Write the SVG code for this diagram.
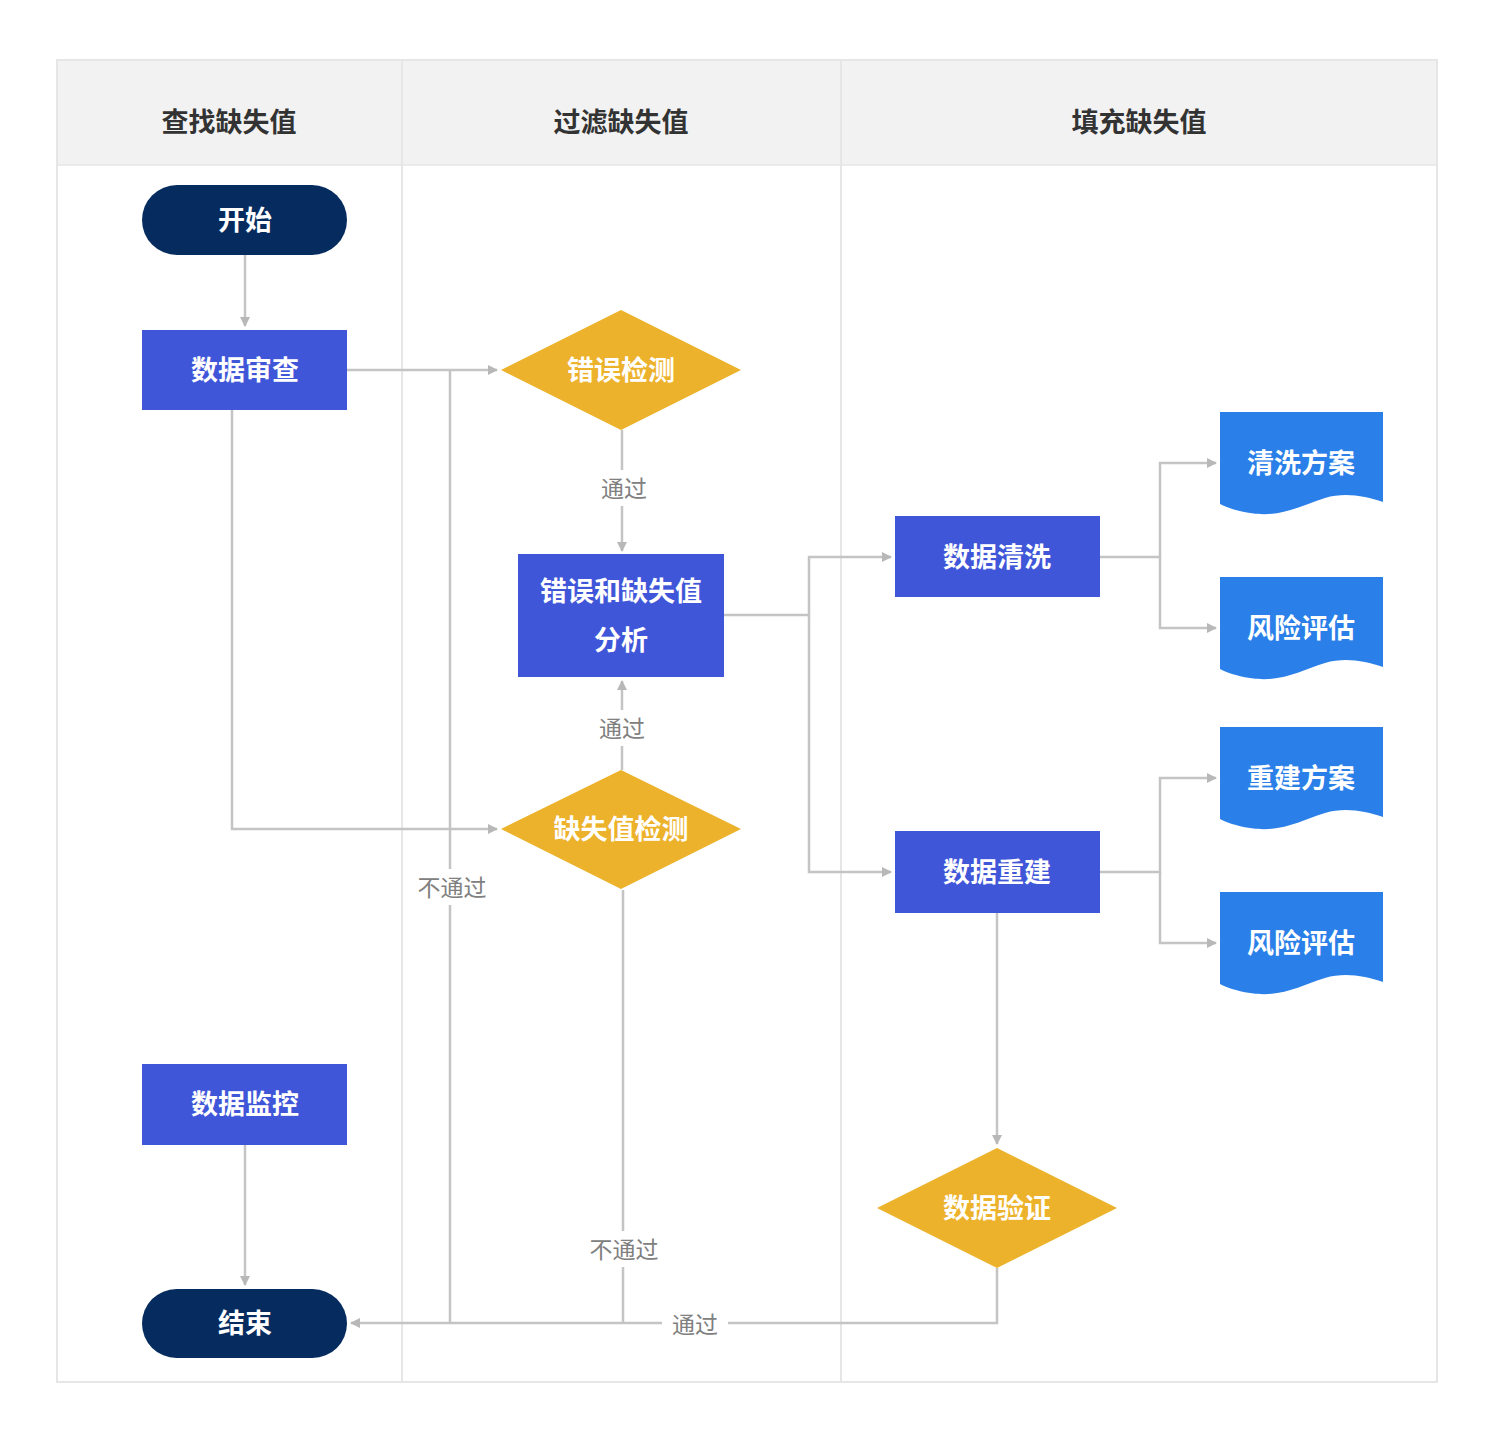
<svg xmlns="http://www.w3.org/2000/svg" width="1510" height="1440" viewBox="0 0 1510 1440">
<style>
text{font-family:"Noto Sans CJK SC","Liberation Sans",sans-serif;text-anchor:middle;dominant-baseline:central}
.hd{font-size:27px;font-weight:bold;fill:#333}
.nt{font-size:27px;font-weight:bold;fill:#fff}
.lb{font-size:23px;fill:#808080}
.ln{fill:none;stroke:#c4c4c4;stroke-width:2.5}
.pill{fill:#062c5f}
.rect{fill:#4056d9}
.dia{fill:#edb22b}
.doc{fill:#2a80e8}
.bg{fill:#fff}
</style>
<defs>
<marker id="ah" viewBox="0 0 10 10" refX="9" refY="5" markerWidth="10" markerHeight="10" markerUnits="userSpaceOnUse" orient="auto">
<path d="M0,0 L10,5 L0,10 Z" fill="#b8b8b8"/>
</marker>
<path id="docshape" d="M0,0 H163 V90 C145,84 125,80 105,86 C80,94 60,106 30,101 C16,99 6,95 0,92 Z"/>
</defs>
<rect width="1510" height="1440" fill="#fff"/>
<g id="lanes">
<rect x="57" y="60" width="1380" height="1322" fill="#fff" stroke="#e6e6e6" stroke-width="2"/>
<rect x="58" y="61" width="1378" height="104" fill="#f2f2f2"/>
<line x1="57" y1="165" x2="1437" y2="165" stroke="#e6e6e6" stroke-width="1.5"/>
<line x1="402" y1="60" x2="402" y2="1382" stroke="#e6e6e6" stroke-width="2"/>
<line x1="841" y1="60" x2="841" y2="1382" stroke="#e6e6e6" stroke-width="2"/>
<text class="hd" x="229" y="120">查找缺失值</text>
<text class="hd" x="621" y="120">过滤缺失值</text>
<text class="hd" x="1139" y="120">填充缺失值</text>
</g>
<g id="connectors">
<path class="ln" d="M245,255 V326" marker-end="url(#ah)"/>
<path class="ln" d="M347,370 H497" marker-end="url(#ah)"/>
<path class="ln" d="M450,370 V1323"/>
<path class="ln" d="M232,410 V829 H497" marker-end="url(#ah)"/>
<path class="ln" d="M622,430 V551" marker-end="url(#ah)"/>
<path class="ln" d="M622,770 V681" marker-end="url(#ah)"/>
<path class="ln" d="M623,890 V1323"/>
<path class="ln" d="M724,615 H809 V557 H891" marker-end="url(#ah)"/>
<path class="ln" d="M809,615 V872 H891" marker-end="url(#ah)"/>
<path class="ln" d="M1100,557 H1160 V463 H1216" marker-end="url(#ah)"/>
<path class="ln" d="M1160,557 V628 H1216" marker-end="url(#ah)"/>
<path class="ln" d="M1100,872 H1160 V778 H1216" marker-end="url(#ah)"/>
<path class="ln" d="M1160,872 V943 H1216" marker-end="url(#ah)"/>
<path class="ln" d="M997,913 V1144" marker-end="url(#ah)"/>
<path class="ln" d="M997,1268 V1323 H351" marker-end="url(#ah)"/>
<path class="ln" d="M245,1145 V1285" marker-end="url(#ah)"/>
<rect class="bg" x="596" y="470" width="56" height="36"/>
<text class="lb" x="624" y="487">通过</text>
<rect class="bg" x="594" y="710" width="56" height="36"/>
<text class="lb" x="622" y="727">通过</text>
<rect class="bg" x="412" y="869" width="80" height="36"/>
<text class="lb" x="452" y="886">不通过</text>
<rect class="bg" x="584" y="1231" width="80" height="36"/>
<text class="lb" x="624" y="1248">不通过</text>
<rect class="bg" x="662" y="1306" width="66" height="36"/>
<text class="lb" x="695" y="1323">通过</text>
</g>
<g id="start"><rect class="pill" x="142" y="185" width="205" height="70" rx="35"/><text class="nt" x="245" y="218">开始</text></g>
<g id="review"><rect class="rect" x="142" y="330" width="205" height="80"/><text class="nt" x="245" y="368">数据审查</text></g>
<g id="errdetect"><polygon class="dia" points="621,310 741,370 621,430 501,370"/><text class="nt" x="621" y="368">错误检测</text></g>
<g id="analysis"><rect class="rect" x="518" y="554" width="206" height="123"/><text class="nt" x="621" y="589">错误和缺失值</text><text class="nt" x="621" y="638">分析</text></g>
<g id="missdetect"><polygon class="dia" points="621,770 741,829 621,889 501,829"/><text class="nt" x="621" y="827">缺失值检测</text></g>
<g id="clean"><rect class="rect" x="895" y="516" width="205" height="81"/><text class="nt" x="997" y="555">数据清洗</text></g>
<g id="rebuild"><rect class="rect" x="895" y="831" width="205" height="82"/><text class="nt" x="997" y="870">数据重建</text></g>
<g id="cleanplan"><use href="#docshape" class="doc" x="1220" y="412"/><text class="nt" x="1301" y="461">清洗方案</text></g>
<g id="risk1"><use href="#docshape" class="doc" x="1220" y="577"/><text class="nt" x="1301" y="626">风险评估</text></g>
<g id="rebuildplan"><use href="#docshape" class="doc" x="1220" y="727"/><text class="nt" x="1301" y="776">重建方案</text></g>
<g id="risk2"><use href="#docshape" class="doc" x="1220" y="892"/><text class="nt" x="1301" y="941">风险评估</text></g>
<g id="validate"><polygon class="dia" points="997,1148 1117,1208 997,1268 877,1208"/><text class="nt" x="997" y="1206">数据验证</text></g>
<g id="monitor"><rect class="rect" x="142" y="1064" width="205" height="81"/><text class="nt" x="245" y="1102">数据监控</text></g>
<g id="end"><rect class="pill" x="142" y="1289" width="205" height="69" rx="34.5"/><text class="nt" x="245" y="1321">结束</text></g>
</svg>
